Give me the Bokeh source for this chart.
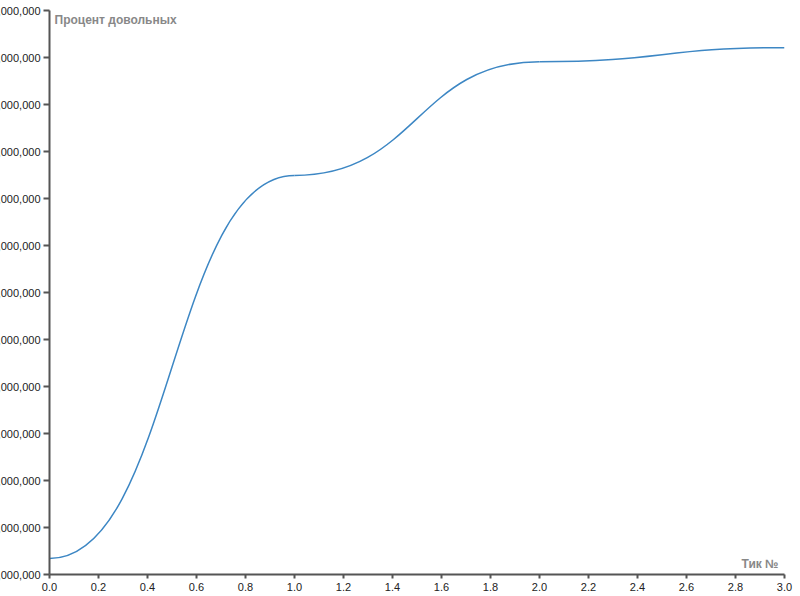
from bokeh.plotting import figure
from bokeh.models import Range1d, FixedTicker, NumeralTickFormatter, Label, ColumnDataSource
from bokeh.embed import file_html
from bokeh.resources import INLINE

# ---- data ----
x_ticks = [0.0, 0.2, 0.4, 0.6, 0.8, 1.0, 1.2, 1.4, 1.6, 1.8, 2.0, 2.2, 2.4, 2.6, 2.8, 3.0]
y_ticks = [100000000, 110000000, 120000000, 130000000, 140000000, 150000000, 160000000,
           170000000, 180000000, 190000000, 200000000, 210000000, 220000000]
tick_no = [0, 1, 2, 3]
satisfied = [103400000, 184900000, 209100000, 212100000]
x_title = "Тик №"
y_title = "Процент довольных"

# bump-style curve (horizontal tangents at each data point), built from the data
seg = dict(x0=[], y0=[], x1=[], y1=[], cx0=[], cy0=[], cx1=[], cy1=[])
for i in range(len(tick_no) - 1):
    xa, xb = tick_no[i], tick_no[i + 1]
    ya, yb = satisfied[i], satisfied[i + 1]
    xm = (xa + xb) / 2
    seg["x0"].append(xa); seg["y0"].append(ya)
    seg["x1"].append(xb); seg["y1"].append(yb)
    seg["cx0"].append(xm); seg["cy0"].append(ya)
    seg["cx1"].append(xm); seg["cy1"].append(yb)
src = ColumnDataSource(seg)

p = figure(output_backend="svg", toolbar_location=None,
           frame_width=735, frame_height=564,
           x_range=Range1d(x_ticks[0], x_ticks[-1]),
           y_range=Range1d(y_ticks[0], y_ticks[-1]),
           min_border_top=8, min_border_right=12, min_border_left=0, min_border_bottom=0,
           background_fill_color="white", border_fill_color="white")
p.styles = {"margin-left": "-24px", "margin-top": "-6px", "position": "relative", "top": "8px"}
p.outline_line_color = None
p.xgrid.visible = False
p.ygrid.visible = False

p.bezier(x0="x0", y0="y0", x1="x1", y1="y1", cx0="cx0", cy0="cy0", cx1="cx1", cy1="cy1",
         source=src, line_color="#3d87c4", line_width=1.5)

for ax in (p.xaxis[0], p.yaxis[0]):
    ax.axis_line_color = "#555555"
    ax.axis_line_width = 2
    ax.major_tick_line_color = "#555555"
    ax.major_tick_line_width = 2
    ax.major_tick_in = 0
    ax.minor_tick_line_color = None
    ax.major_label_text_font = "Liberation Sans"
    ax.major_label_text_font_size = "11px"
    ax.major_label_text_color = "#222222"

p.xaxis.ticker = FixedTicker(ticks=x_ticks)
p.xaxis.formatter = NumeralTickFormatter(format="0.0")
p.xaxis.major_tick_out = 4
p.xaxis.major_label_standoff = 4

p.yaxis.ticker = FixedTicker(ticks=y_ticks)
p.yaxis.formatter = NumeralTickFormatter(format="0,0")
p.yaxis.major_tick_out = 6
p.yaxis.major_label_standoff = 3

p.add_layout(Label(x=x_ticks[0], y=y_ticks[-1], x_offset=5, y_offset=-2, text=y_title,
                   text_align="left", text_baseline="top",
                   text_font="Liberation Sans", text_font_size="12px",
                   text_font_style="bold", text_color="#888888"))
p.add_layout(Label(x=x_ticks[-1], y=y_ticks[0], x_offset=-6, y_offset=4, text=x_title,
                   text_align="right", text_baseline="bottom",
                   text_font="Liberation Sans", text_font_size="12px",
                   text_font_style="bold", text_color="#888888"))

open("out.html", "w").write(file_html(p, INLINE))
